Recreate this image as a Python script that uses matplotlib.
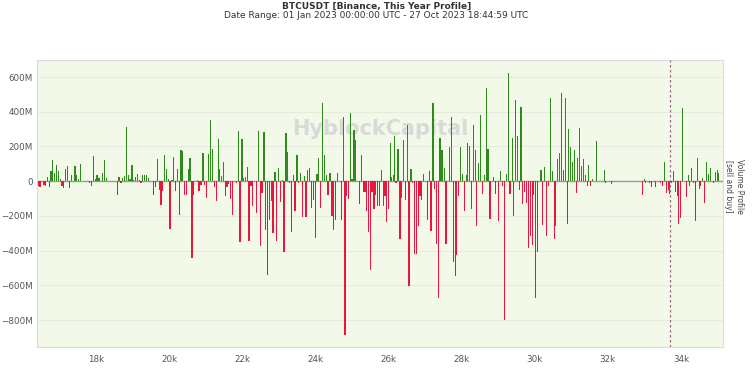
import matplotlib
matplotlib.use("Agg")
import matplotlib.pyplot as plt
from matplotlib.ticker import FuncFormatter, FixedLocator

# price bin centres (USD) and net volume (millions USD): + buy-dominant (green), - sell-dominant (red)
prices = [
    16422, 16468, 16578, 16623, 16669, 16723, 16769, 16815, 16860, 16924, 16970, 17024, 17070, 17116,
    17170, 17225, 17271, 17325, 17426, 17471, 17526, 17581, 17827, 17873, 17936, 17982, 18028, 18082,
    18183, 18228, 18283, 18584, 18630, 18684, 18730, 18785, 18830, 18885, 18931, 18985, 19031, 19086,
    19131, 19186, 19232, 19277, 19332, 19377, 19432, 19578, 19633, 19678, 19733, 19779, 19824, 19879,
    19925, 19979, 20025, 20080, 20125, 20180, 20226, 20280, 20326, 20371, 20426, 20472, 20526, 20572,
    20627, 20672, 20773, 20818, 20873, 20928, 20973, 21028, 21074,
    21137, 21183, 21238, 21293, 21347, 21384, 21429, 21484, 21539, 21584, 21630, 21685, 21739, 21840,
    21895, 21940, 21995, 22040, 22086, 22141, 22186, 22241, 22287, 22396, 22451, 22496, 22542, 22597,
    22642, 22697, 22743, 22797, 22843, 22898, 22943, 22998, 23044, 23098, 23144, 23199, 23244, 23290,
    23345, 23399, 23445, 23499, 23545, 23600, 23645, 23700, 23746, 23791, 23837, 23901, 23946, 24001,
    24047, 24092, 24147, 24202, 24247, 24302, 24348, 24402, 24457, 24503, 24548, 24603, 24712, 24767,
    24813, 24858, 24913, 24959, 25004, 25059, 25105, 25205, 25269, 25314, 25360, 25406, 25451, 25506,
    25552, 25606, 25652, 25698,
    25752, 25816, 25862, 25907, 25953, 26008, 26053, 26081, 26135, 26163, 26208, 26263, 26318, 26363,
    26409, 26464, 26518, 26564, 26619, 26664, 26710, 26765, 26819, 26865, 26911, 26965, 27066, 27120,
    27166, 27221, 27266, 27321, 27376, 27412, 27467, 27522, 27576, 27677, 27731, 27777, 27823, 27868,
    27923, 27968, 28023, 28078, 28124, 28169, 28215, 28269, 28324, 28370, 28415, 28470, 28516, 28570,
    28625, 28680, 28725, 28780, 28880, 28926, 29017, 29063, 29127, 29181, 29227, 29282, 29327, 29382,
    29428, 29482, 29528, 29583, 29628, 29674, 29729, 29774, 29829, 29875, 29929, 29975, 30030, 30075,
    30175, 30221, 30276, 30330, 30376,
    30431, 30485, 30531, 30577, 30631, 30677, 30732, 30777, 30832, 30887, 30932, 30978, 31033, 31078,
    31133, 31179, 31233, 31279, 31324, 31379, 31434, 31480, 31534, 31589, 31689, 31899, 31945, 32091,
    32948, 32993, 33039, 33148, 33194, 33294, 33449, 33495, 33550, 33595, 33650, 33696, 33741, 33796,
    33842, 33896, 33942, 33988, 34051, 34143, 34197, 34243, 34298, 34343, 34398, 34453, 34498, 34544,
    34599, 34653, 34699, 34754, 34799, 34890, 34945, 34991, 35036,
]
volumes = [
    -25, -35, -20, -25, 25, -35, 60, 121, 48, 94, 56, 10, -25, -38,
    71, 88, -38, 33, 87, 38, 10, 100, -10, -29, 146, 10, 38, 19,
    46, 121, 19, -81, 27, -12, 17, 31, 310, 33, 13, 96, 4, 25,
    42, 6, -10, 38, 35, 38, 19, -81, -33, 125, -48, -135, -54, 152,
    73, 10, -275, 5, 140, -54, 73, -196, 177, 173, -77, -81, 73, 131,
    -442, -81, 5, -58, -20, 160, -20, -96, 154,
    350, 183, -35, -115, 244, 73, 29, 113, -87, -35, -19, -102, -192, -10,
    287, -352, 244, 19, 25, 83, -346, -25, -144, -183, 288, -375, -67, 283,
    -279, -538, -221, -115, -298, 54, -342, 77, -121, 5, -410, 279, 169, -10,
    -294, 38, -173, 150, -13, 48, -206, 29, -206, 62, 77, -154, -106, -327,
    42, 131, -154, 452, 148, 38, -77, 48, -202, -279, -225, 48, -225, 371,
    -888, -87, -102, 394, 15, 292, 240, -131, 148, -63, -63, -173, -292, -510,
    -63, -158, -77, -144,
    -144, 67, -144, -87, -235, -158, 221, 25, 33, 260, -10, 187, -333, -96,
    235, -110, 323, -606, 71, -10, -419, -419, -260, -87, -110, 44, -225, 58,
    -288, 452, -44, -362, -673, 246, 179, 77, -362, 196, 369, -467, -548, -427,
    -87, 198, 44, -169, 33, 221, 202, -160, 323, 179, -256, 106, 381, -73,
    33, 538, 187, -217, 25, -71, -231, 58, -25, -798, 44, 621, -71, 246,
    -198, 465, 263, -48, 429, -129, -63, -125, -385, -317, -365, -77, -673, -410,
    67, -250, 83, -317, -29,
    477, 58, -333, -256, 129, 163, 510, 62, 477, -246, 302, 198, 112, 177,
    -67, 131, 308, 87, 129, 38, -25, 92, -29, 10, 229, 67, -13, -19,
    -77, 15, -10, -12, -33, -33, -12, -29, 113, -67, -48, -71, -12, 58,
    -63, -87, -246, -212, 419, -90, 35, -29, 77, -12, -227, 135, -44, -29,
    19, -125, 112, 44, 77, -8, 52, 62, 48,
]
current_price = 33687
y_ticks = [600, 400, 200, 0, -200, -400, -600, -800]
x_ticks = [18000, 20000, 22000, 24000, 26000, 28000, 30000, 32000, 34000]

GREEN = "#2f8a1c"
RED = "#e8163c"

fig = plt.figure(figsize=(7.53, 3.83), dpi=100)
ax = fig.add_axes([37 / 753, 1 - 347 / 383, (723 - 37) / 753, (347 - 60) / 383])
ax.set_facecolor("#f3f9e9")

colors = [GREEN if v >= 0 else RED for v in volumes]
ax.bar(prices, volumes, width=34, color=colors, linewidth=0, zorder=3)
ax.axhline(0, color="#9a9a9a", linewidth=1.0, zorder=2)
ax.axvline(current_price, color="#9b6a86", linewidth=0.9, linestyle=(0, (2, 2)), zorder=4)

ax.set_xlim(16386, 35150)
ax.set_ylim(-955, 698)
ax.yaxis.set_major_locator(FixedLocator(y_ticks))
ax.xaxis.set_major_locator(FixedLocator(x_ticks))


def yfmt(v, pos):
    v = int(round(v))
    if v == 0:
        return "0"
    return ("\u2212" if v < 0 else "") + f"{abs(v)}M"


ax.yaxis.set_major_formatter(FuncFormatter(yfmt))
ax.xaxis.set_major_formatter(FuncFormatter(lambda v, p: f"{int(v / 1000)}k"))
ax.grid(axis="y", color="#e6ebdf", linewidth=0.8, zorder=1)
ax.tick_params(axis="both", length=0, labelsize=6.3, labelcolor="#555555")
ax.tick_params(axis="y", pad=3)
ax.tick_params(axis="x", pad=6)
for s in ax.spines.values():
    s.set_color("#dcdcdc")
    s.set_linewidth(0.8)

ax.text(0.5, 0.76, "HyblockCapital", transform=ax.transAxes, ha="center", va="center",
        fontsize=15, fontweight="bold", color="#d9d9d9", zorder=2, family="DejaVu Sans")

fig.text(0.5, 1 - 6 / 383, "BTCUSDT [Binance, This Year Profile]", ha="center", va="center",
         fontsize=6.5, color="#333333", fontweight="bold")
fig.text(0.5, 1 - 16 / 383, "Date Range: 01 Jan 2023 00:00:00 UTC - 27 Oct 2023 18:44:59 UTC",
         ha="center", va="center", fontsize=6.5, color="#333333")
fig.text(734 / 753, 1 - 186 / 383, "Volume Profile\n[sell and buy]", rotation=270,
         ha="center", va="center", fontsize=5.5, color="#444444", linespacing=1.3)

fig.savefig("out.png", dpi=100)
